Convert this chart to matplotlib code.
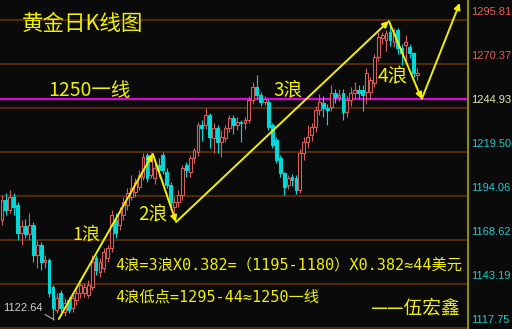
import matplotlib
matplotlib.use("Agg")
import matplotlib.pyplot as plt
from matplotlib import transforms

# daily gold candles (open / high / low / close)
opens = [1180.2, 1191.8, 1186.0, 1193.5, 1188.9, 1172.6, 1176.7, 1172.1, 1177.3, 1160.0,
         1165.7, 1155.9, 1157.1, 1141.5, 1128.2, 1138.0, 1127.0, 1133.9, 1129.3, 1134.0,
         1138.0, 1138.0, 1137.0, 1141.5, 1158.2, 1150.1, 1152.5, 1158.2, 1164.0, 1180.2,
         1177.3, 1183.1, 1188.9, 1193.5, 1196.4, 1199.3, 1205.0, 1217.8, 1206.2, 1204.5,
         1212.0, 1217.8, 1207.9, 1200.4, 1187.7, 1190.6, 1194.6, 1212.0, 1207.9, 1216.0,
         1219.5, 1235.1, 1235.1, 1240.9, 1227.6, 1233.4, 1225.3, 1227.6, 1233.4, 1239.1,
         1235.1, 1236.8, 1236.3, 1238.0, 1249.6, 1257.1, 1252.4, 1248.4, 1248.4, 1235.1,
         1226.4, 1216.0, 1207.4, 1200.4, 1205.0, 1204.5, 1197.5, 1218.9, 1225.3, 1229.3,
         1233.9, 1243.8, 1247.8, 1244.9, 1245.5, 1253.6, 1251.3, 1253.6, 1242.6, 1249.6,
         1253.6, 1255.3, 1255.3, 1254.2, 1254.2, 1259.4, 1274.4, 1285.4, 1284.2, 1288.9,
         1283.0, 1290.0, 1279.6, 1281.3, 1280.2, 1276.7, 1264.0]
highs = [1194.6, 1195.8, 1197.5, 1195.8, 1190.6, 1180.2, 1181.0, 1184.2, 1179.0, 1168.6,
         1167.5, 1160.0, 1158.2, 1142.6, 1138.0, 1140.0, 1135.1, 1135.7, 1137.0, 1141.5,
         1144.0, 1144.0, 1145.5, 1160.0, 1160.0, 1158.2, 1164.0, 1166.0, 1186.0, 1184.2,
         1187.7, 1193.5, 1198.7, 1206.2, 1204.5, 1209.1, 1218.9, 1218.9, 1219.5, 1213.0,
         1216.0, 1219.5, 1210.3, 1202.2, 1193.5, 1197.5, 1212.0, 1214.0, 1218.0, 1222.0,
         1237.0, 1238.0, 1244.9, 1242.0, 1236.0, 1235.0, 1232.0, 1235.0, 1241.0, 1241.0,
         1240.0, 1238.0, 1240.0, 1252.0, 1260.0, 1264.0, 1254.0, 1252.0, 1250.0, 1236.0,
         1228.0, 1218.0, 1208.0, 1206.0, 1207.0, 1206.0, 1221.0, 1228.0, 1235.0, 1236.0,
         1246.0, 1253.0, 1252.0, 1247.0, 1258.0, 1256.0, 1256.0, 1256.0, 1252.0, 1257.0,
         1260.0, 1258.0, 1258.0, 1268.0, 1263.0, 1276.0, 1289.0, 1289.0, 1290.0, 1294.6,
         1291.0, 1291.0, 1282.0, 1287.0, 1282.0, 1277.5, 1268.0]
lows = [1177.3, 1183.1, 1184.2, 1183.1, 1168.6, 1165.7, 1169.8, 1168.6, 1155.9, 1152.5,
        1151.3, 1152.5, 1135.7, 1122.6, 1126.5, 1127.0, 1125.0, 1126.5, 1127.0, 1131.0,
        1135.1, 1135.7, 1135.1, 1139.7, 1148.4, 1147.0, 1150.1, 1155.9, 1161.7, 1170.0,
        1174.4, 1180.2, 1186.0, 1191.8, 1193.5, 1197.5, 1203.3, 1202.2, 1204.5, 1201.0,
        1205.0, 1207.0, 1198.7, 1186.0, 1183.1, 1188.0, 1192.0, 1205.0, 1205.0, 1213.0,
        1217.0, 1226.0, 1233.0, 1222.0, 1219.0, 1219.0, 1216.6, 1225.0, 1231.0, 1230.0,
        1232.0, 1225.3, 1233.0, 1236.0, 1247.0, 1250.0, 1246.0, 1246.5, 1232.0, 1222.0,
        1213.0, 1205.0, 1194.6, 1198.0, 1200.0, 1195.0, 1196.0, 1215.0, 1222.0, 1226.0,
        1231.0, 1241.0, 1240.0, 1235.0, 1243.0, 1248.0, 1249.0, 1238.0, 1240.0, 1246.0,
        1250.0, 1250.0, 1243.0, 1247.0, 1250.0, 1257.0, 1272.0, 1282.0, 1278.0, 1281.0,
        1280.0, 1276.0, 1270.0, 1272.0, 1274.0, 1263.0, 1261.0]
closes = [1191.8, 1186.0, 1193.5, 1187.7, 1172.6, 1176.7, 1172.1, 1177.3, 1160.0, 1165.7,
          1155.9, 1157.1, 1138.0, 1129.3, 1135.1, 1129.3, 1132.2, 1128.2, 1135.1, 1138.0,
          1142.6, 1141.5, 1142.6, 1156.0, 1151.3, 1155.9, 1161.7, 1164.0, 1183.1, 1172.6,
          1184.8, 1190.6, 1195.8, 1198.7, 1202.2, 1206.2, 1216.6, 1204.5, 1217.8, 1210.3,
          1209.1, 1209.1, 1200.4, 1190.6, 1190.6, 1194.6, 1210.3, 1209.1, 1216.0, 1220.6,
          1235.1, 1233.4, 1240.9, 1228.2, 1233.4, 1225.3, 1228.2, 1233.4, 1239.1, 1235.1,
          1236.8, 1236.3, 1238.0, 1249.6, 1257.1, 1252.4, 1248.4, 1250.0, 1233.9, 1223.5,
          1215.0, 1207.4, 1199.3, 1204.5, 1203.3, 1197.5, 1218.9, 1225.3, 1228.2, 1233.9,
          1243.8, 1248.4, 1244.9, 1243.8, 1253.6, 1251.3, 1252.4, 1242.6, 1249.6, 1253.6,
          1255.3, 1253.6, 1252.4, 1265.2, 1261.1, 1274.4, 1286.0, 1287.1, 1288.3, 1284.2,
          1288.0, 1279.6, 1276.7, 1283.1, 1276.7, 1265.2, 1265.2]

# price scale on the right
tick_values = [1295.81, 1270.37, 1244.93, 1219.50, 1194.06, 1168.62, 1143.19, 1117.75]
tick_labels = ["1295.81", "1270.37", "1244.93", "1219.50", "1194.06", "1168.62", "1143.19", "1117.75"]
tick_colors = ["#e05c5c", "#e05c5c", "#e6e6b4", "#22c8c8", "#22c8c8", "#22c8c8", "#22c8c8", "#22c8c8"]

support_level = 1250
low_value = 1122.64

# Elliott wave pivots (candle index, price)
wave_x = [14.5, 38.5, 44.4, 98.7, 107.1, 116.8]
wave_y = [1123.0, 1218.4, 1179.0, 1295.2, 1250.1, 1305.6]

bg = "#0a0a0a"
yellow = "#f0f000"
up_color = "#d95c5c"
down_color = "#00d8d8"

plt.rcParams["font.family"] = ["Noto Sans CJK SC", "DejaVu Sans"]

fig = plt.figure(figsize=(5.12, 3.29), dpi=100, facecolor=bg)
ax = fig.add_axes([0, 0, 468 / 512, 1], facecolor=bg)
ax.set_xlim(-0.5, 118.9)
ax.set_ylim(1117.2, 1307.35)
ax.set_xticks([])
ax.set_yticks([])
for side in ["top", "left", "bottom"]:
    ax.spines[side].set_visible(False)
ax.spines["right"].set_color("#8c8c00")
ax.spines["right"].set_linewidth(1.5)

# horizontal price lines
for v in tick_values:
    ax.axhline(v, color="#5c2e00", lw=1.3, zorder=1)
ax.axhline(support_level, color="#e000e0", lw=1.6, zorder=2)

# candles
for i in range(len(opens)):
    o, h, l, c = opens[i], highs[i], lows[i], closes[i]
    up = c >= o
    col = up_color if up else down_color
    ax.vlines(i, l, h, color=col, lw=0.8, zorder=3)
    ax.bar(i, max(abs(c - o), 0.4), bottom=min(o, c), width=0.72,
           facecolor=bg if up else col, edgecolor=col, lw=0.8, zorder=4)

# right side labels
trans = transforms.blended_transform_factory(ax.transAxes, ax.transData)
trans = transforms.offset_copy(trans, fig=fig, x=3, y=8, units="dots")
for v, lab, col in zip(tick_values, tick_labels, tick_colors):
    ax.text(1.0, v, lab, transform=trans, color=col, fontsize=8,
            family="Liberation Sans", va="center", ha="left", clip_on=False)

# wave arrows
for k in range(len(wave_x) - 1):
    ax.annotate("", xy=(wave_x[k + 1], wave_y[k + 1]), xytext=(wave_x[k], wave_y[k]),
                arrowprops=dict(arrowstyle="-|>", color=yellow, lw=1.4,
                                mutation_scale=9, shrinkA=0, shrinkB=0),
                annotation_clip=False, zorder=6)

# low marker
ax.annotate("%.2f" % low_value, xy=(13.3, low_value), xytext=(0.2, 1129.3),
            color="#d0d0d0", fontsize=8, family="Liberation Sans",
            va="center", ha="left",
            arrowprops=dict(arrowstyle="-", color="#b0b0b0", lw=0.8,
                            relpos=(1, 0), shrinkA=0, shrinkB=0))


def px(x, y):
    return x / 512, 1 - y / 329


mono = ["DejaVu Sans Mono", "Noto Sans CJK SC"]
fig.text(*px(22, 24), "黄金日K线图", color=yellow, fontsize=15.5, va="center")
fig.text(*px(48, 90), "1250一线", color=yellow, fontsize=14, va="center")
fig.text(*px(273, 90), "3浪", color=yellow, fontsize=13.5, va="center")
fig.text(*px(378, 77), "4浪", color=yellow, fontsize=14, va="center")
fig.text(*px(138, 214), "2浪", color=yellow, fontsize=13.5, va="center")
fig.text(*px(72, 235), "1浪", color=yellow, fontsize=13, va="center")
fig.text(*px(115, 265), "4浪=3浪X0.382=（1195-1180）X0.382≈44美元",
         color=yellow, fontsize=11, va="center", family=mono)
fig.text(*px(115, 297), "4浪低点=1295-44≈1250一线",
         color=yellow, fontsize=11, va="center", family=mono)
fig.text(*px(370, 308), "——伍宏鑫", color=yellow, fontsize=13.5, va="center")

fig.savefig("out.png", dpi=100, facecolor=bg)
